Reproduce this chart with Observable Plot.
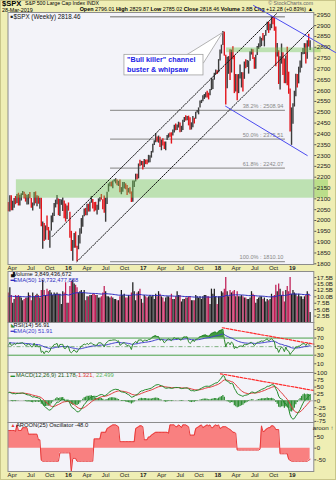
<!DOCTYPE html>
<html><head><meta charset="utf-8">
<script src="https://cdn.jsdelivr.net/npm/d3@7"></script>
<script src="https://cdn.jsdelivr.net/npm/@observablehq/plot@0.6"></script>
<style>
body{margin:0;background:#fff;}
#wrap{position:relative;width:336px;height:480px;background:#efeeb4;overflow:hidden;font-family:"Liberation Sans",Arial,sans-serif;box-shadow:inset 0 0 0 1px #c9c68a;}
.panel{position:absolute;left:0;width:336px;}
.panel svg{overflow:visible;display:block;}
.hd{position:absolute;white-space:nowrap;color:#000;line-height:1;}
</style></head><body>
<div id="wrap">
  <div class="hd" style="left:2px;top:0px;font-size:7.6px;font-weight:bold;">$SPX</div>
  <div class="hd" style="left:25px;top:1.4px;font-size:5.2px;">S&amp;P 500 Large Cap Index INDX</div>
  <div class="hd" style="right:23px;top:1.4px;font-size:5.2px;color:#666;">© StockCharts.com</div>
  <div class="hd" style="left:2px;top:7.6px;font-size:5.4px;">28-Mar-2019</div>
  <div class="hd" style="right:23px;top:7.4px;font-size:5.4px;"><b>Open</b> 2796.01 <b>High</b> 2829.87 <b>Low</b> 2785.02 <b>Close</b> 2818.46 <b>Volume</b> 3.8B <b>Chg</b> +12.28 (+0.83%) ▲</div>
</div>
<script>
// ---------------- data (weekly, Fridays from 2014-08-01) ----------------
const startDate = "2014-08-01";
const high = [
1984,1942,1964,1992,2005,2011,2008,2019,2008,1986,1977,1912,1965,2018,2034,2046,2071,2075,2079,2076,2077,2093,
2092,2064,2057,2064,2057,2072,2097,2110,2119,2117,2083,2114,2114,2089,2102,2111,2120,2126,2117,2123,2134,2131,2121,2115,2120,2129,2102,2081,2129,2132,2114,2112,2103,2103,1993,1986,1975,2021,1968,1951,2021,2034,2079,2094,2116,2099,2097,2095,2104,2090,2076,2067,2081,
2038,1950,1908,1940,1947,1881,1930,1962,2009,2022,2053,2056,2075,2075,2084,2111,2097,2083,2084,2071,2100,2106,2120,2096,2113,2103,2131,2169,2175,2178,2183,2188,2193,2187,2181,2187,2152,2175,2175,2169,2162,2148,2151,2132,2183,2182,2214,2214,2261,2278,2273,2273,
2282,2279,2279,2301,2299,2319,2352,2368,2401,2386,2390,2385,2371,2378,2362,2363,2392,2400,2404,2405,2418,2440,2446,2441,2454,2450,2435,2463,2476,2484,2480,2482,2475,2451,2480,2472,2500,2508,2520,2552,2555,2576,2582,2590,2597,2588,2605,2657,2652,2680,2695,2692,
2743,2787,2810,2873,2870,2763,2754,2757,2789,2787,2802,2761,2674,2673,2674,2718,2683,2682,2732,2742,2739,2736,2779,2791,2789,2752,2763,2804,2816,2848,2841,2864,2854,2877,2916,2916,2906,2941,2940,2939,2894,2817,2784,2756,2815,2775,2746,2760,2800,2685,2607,2520,
2539,2597,2675,2674,2708,2737,2776,2794,2817,2816,2830,2860,2830];
const low = [
1916,1905,1928,1955,1988,1990,1984,1978,1965,1926,1906,1821,1886,1951,2014,2030,2034,2062,2049,2002,1972,2066,
2046,1992,1988,2004,1989,1981,2041,2085,2094,2066,2040,2039,2045,2045,2057,2073,2079,2067,2067,2090,2115,2099,2085,2072,2072,2100,2056,2044,2067,2077,2063,2075,2052,1971,1867,1903,1909,1953,1908,1872,1951,1990,2019,2058,2073,2022,2019,2070,2042,2008,1993,2005,2043,
1918,1857,1812,1872,1872,1810,1865,1891,1937,1969,2017,2022,2022,2039,2039,2080,2053,2039,2044,2025,2047,2086,2094,2050,2033,1992,2074,2131,2156,2155,2147,2178,2169,2160,2157,2128,2119,2131,2145,2142,2115,2127,2121,2083,2084,2152,2178,2187,2192,2248,2253,2233,
2245,2258,2258,2265,2267,2288,2312,2346,2359,2361,2357,2337,2322,2344,2328,2322,2370,2380,2385,2353,2390,2404,2415,2416,2427,2405,2407,2416,2453,2459,2461,2437,2417,2418,2428,2446,2468,2496,2488,2520,2540,2548,2559,2566,2566,2557,2576,2600,2605,2648,2673,2674,
2682,2737,2769,2808,2759,2533,2608,2675,2647,2681,2742,2586,2593,2553,2586,2653,2612,2594,2652,2701,2707,2676,2735,2764,2743,2698,2699,2762,2790,2798,2803,2829,2802,2851,2876,2864,2876,2886,2904,2874,2710,2755,2628,2603,2722,2670,2632,2631,2622,2583,2409,2347,
2444,2524,2571,2612,2631,2681,2703,2765,2767,2723,2745,2801,2785];
const close = [
1925,1931,1955,1988,2003,2007,1985,2010,1982,1967,1906,1886,1964,2018,2032,2039,2064,2067,2075,2002,2070,2088,
2058,2044,2019,2051,1995,2055,2097,2110,2104,2071,2053,2108,2061,2067,2102,2081,2117,2108,2116,2123,2126,2107,2092,2094,2110,2102,2076,2077,2127,2079,2104,2078,2092,1971,1989,1921,1961,1958,1931,1951,2015,2033,2075,2079,2099,2023,2089,2090,2092,2012,2006,2061,2044,
1922,1880,1907,1940,1880,1865,1918,1948,2000,2022,2050,2035,2073,2048,2081,2092,2065,2057,2047,2052,2099,2099,2096,2071,2037,2103,2130,2162,2175,2174,2183,2184,2184,2169,2180,2128,2139,2165,2168,2153,2133,2141,2126,2085,2164,2182,2213,2192,2260,2258,2264,2239,
2277,2275,2271,2295,2297,2316,2351,2367,2383,2373,2378,2344,2363,2355,2329,2349,2384,2399,2391,2382,2416,2439,2432,2433,2438,2423,2425,2459,2473,2472,2477,2441,2426,2443,2477,2461,2500,2502,2519,2549,2553,2575,2581,2588,2582,2579,2602,2642,2652,2676,2683,2674,
2743,2786,2810,2873,2762,2620,2732,2747,2691,2786,2752,2588,2641,2604,2656,2670,2670,2663,2728,2713,2721,2735,2779,2780,2755,2718,2760,2801,2802,2819,2840,2833,2850,2875,2902,2872,2905,2930,2914,2886,2767,2768,2659,2723,2781,2736,2633,2760,2633,2600,2417,2486,
2532,2596,2671,2665,2707,2708,2776,2793,2804,2743,2822,2801,2818.46];
// weekly volume in billions, from 2015-03-13 (week index 32)
const volStart = 32;
const volumeB = [
11.5,13.5,10.5,7.5,9.0,10.5,10.0,10.5,10.0,9.5,8.5,9.0,9.5,9.5,11.5,10.5,8.5,11.5,10.0,10.5,11.0,10.5,9.5,12.5,16.5,12.5,10.5,13.0,12.0,12.5,11.5,10.5,11.5,11.0,11.5,11.0,11.0,7.0,12.0,11.5,15.5,7.5,7.5,
14.0,16.0,16.5,15.0,14.5,13.5,11.5,12.0,12.5,11.5,12.5,8.5,10.0,10.0,10.5,10.5,11.0,11.0,10.5,10.5,9.5,9.5,10.0,11.5,14.0,12.0,10.0,10.0,9.5,10.0,9.5,9.0,9.0,8.5,8.5,10.0,12.5,10.5,11.0,9.5,9.5,10.5,10.0,11.5,15.5,12.0,8.5,11.5,12.0,13.0,9.0,7.5,
10.5,10.0,9.5,10.0,10.5,10.0,10.5,9.0,11.0,10.0,12.0,11.0,10.0,9.5,8.0,9.5,10.0,10.0,9.5,11.0,9.0,9.0,10.0,12.0,10.5,10.5,8.0,9.0,9.0,9.5,9.5,10.0,10.0,8.5,8.5,8.5,10.5,10.0,9.5,10.0,9.0,10.0,10.5,10.5,10.0,10.0,7.0,13.0,11.0,13.0,10.0,7.0,
10.0,10.0,12.0,11.5,13.0,17.5,12.0,10.0,12.5,11.5,12.0,12.5,10.0,12.0,10.0,10.0,10.5,10.0,9.5,9.5,9.0,9.0,9.5,12.0,11.0,10.5,7.5,9.0,9.5,10.0,10.0,9.0,9.5,8.0,9.0,8.5,9.0,11.0,10.0,10.5,14.5,12.0,15.0,13.0,10.5,12.0,8.0,12.5,14.0,12.0,17.5,11.0,
12.5,11.5,11.0,10.0,11.0,10.0,10.0,9.0,10.0,10.5,12.0,11.0,3.85];

const priceTicks = [1800,1850,1900,1950,2000,2050,2100,2150,2200,2250,2300,2350,2400,2450,2500,2550,2600,2650,2700,2750,2800,2850,2900,2950];
const volTicks = [2.5,5,7.5,10,12.5,15,17.5];
const rsiTicks = [10,30,50,70,90];
const macdTicks = [-75,-50,-25,0,25,50,75,100];
const aroonTicks = [-50,0,50];
const monthTicks = ["2015-04-01","2015-07-01","2015-10-01","2016-04-01","2016-07-01","2016-10-01","2017-04-01","2017-07-01","2017-10-01","2018-04-01","2018-07-01","2018-10-01"];
const yearTicks = ["2016-01-01","2017-01-01","2018-01-01","2019-01-01"];

// annotations (data units: date, price / indicator value)
const fibLevels = [
  {label:"0.0% : 2940.91", value:2940.91, show:false},
  {label:"38.2% : 2508.94", value:2508.94, show:true},
  {label:"50.0% : 2375.51", value:2375.51, show:true},
  {label:"61.8% : 2242.07", value:2242.07, show:true},
  {label:"100.0% : 1810.10", value:1810.10, show:true}];
const fibFrom = "2016-07-25", fibTo = "2018-11-28";
const channelLines = [
  {line:"lower", date:"2016-02-11", price:1810.1}, {line:"lower", date:"2019-04-18", price:2899},
  {line:"upper", date:"2015-10-13", price:1926}, {line:"upper", date:"2018-10-16", price:2956}];
const wedgeLines = [
  {line:"top", date:"2018-06-25", price:2993}, {line:"top", date:"2019-07-31", price:2776},
  {line:"bottom", date:"2018-02-08", price:2528}, {line:"bottom", date:"2019-03-15", price:2300}];
const greenBands = [
  {from:"2018-02-13", to:"2019-05-22", lo:2775, hi:2797},
  {from:"2015-04-21", to:"2019-06-27", lo:2103, hi:2188}];
const calloutBox = [{from:"2016-10-01", to:"2017-10-23", lo:2670, hi:2765}];
const calloutPointer = [{date:"2017-08-01", price:2765},{date:"2018-01-24", price:2868},{date:"2017-10-23", price:2728}];
const calloutText = [{date:"2016-10-14", price:2741, text:'"Bull killer" channel'},{date:"2016-10-14", price:2695, text:"buster & whipsaw"}];
const rsiTrend = [{date:"2018-01-23", v:94},{date:"2019-04-16", v:56}];
const macdTrend = [{date:"2018-01-14", v:98.4},{date:"2019-04-16", v:37.5}];

// ---------------- derived ----------------
const DAY = 864e5, t0 = Date.parse(startDate);
const D = s => new Date(s);
const N = close.length;
const dates = close.map((_, i) => new Date(t0 + i * 7 * DAY));
function ema(arr, n, s) {
  const k = 2 / (n + 1), out = Array(arr.length).fill(null);
  out[s + n - 1] = d3.mean(arr.slice(s, s + n));
  for (let i = s + n; i < arr.length; i++) out[i] = arr[i] * k + out[i - 1] * (1 - k);
  return out;
}
// RSI(14) Wilder
const rsi = Array(N).fill(null);
{ let ag = 0, al = 0;
  for (let i = 1; i <= 14; i++) { const d = close[i] - close[i - 1]; if (d > 0) ag += d; else al -= d; }
  ag /= 14; al /= 14; rsi[14] = 100 - 100 / (1 + ag / al);
  for (let i = 15; i < N; i++) { const d = close[i] - close[i - 1];
    ag = (ag * 13 + Math.max(d, 0)) / 14; al = (al * 13 + Math.max(-d, 0)) / 14;
    rsi[i] = 100 - 100 / (1 + ag / al); } }
const rsiE = ema(rsi, 20, 14);
const e12 = ema(close, 12, 0), e26 = ema(close, 26, 0);
const macd = close.map((_, i) => i >= 25 ? e12[i] - e26[i] : null);
const sig = ema(macd, 9, 25);
const aroon = close.map((_, i) => {
  if (i < 25) return null;
  let hi = i - 25, lo = i - 25;
  for (let j = i - 25; j <= i; j++) { if (high[j] >= high[hi]) hi = j; if (low[j] <= low[lo]) lo = j; }
  return 100 * (25 - (i - hi)) / 25 - 100 * (25 - (i - lo)) / 25;
});
const volE = (() => { const k = 2 / 51; let p = d3.mean(volumeB.slice(0, 50)) * 0.9;
  return volumeB.map(v => (p = v * k + p * (1 - k))); })();

const rows = dates.map((date, i) => ({
  date, high: high[i], low: low[i], close: close[i], up: i > 0 && close[i] >= close[i - 1],
  rsi: rsi[i], rsiE: rsiE[i], macd: macd[i], sig: sig[i],
  hist: (macd[i] != null && sig[i] != null) ? macd[i] - sig[i] : null,
  aroon: aroon[i],
  vol: i >= volStart ? volumeB[i - volStart] : null,
  volE: i >= volStart ? volE[i - volStart] : null
})).filter((d, i) => i >= volStart);

// ---------------- plotting ----------------
const X = {type: "utc", domain: [D("2015-03-11"), D("2019-04-16")], range: [7.5, 313.3]};
const FONT = '"Liberation Sans", Arial, sans-serif';
const baseStyle = {background: "transparent", overflow: "visible", fontFamily: FONT, fontSize: "6.2px", color: "#222"};
const wrap = document.getElementById("wrap");
function mount(svg, top) { const d = document.createElement("div"); d.className = "panel"; d.style.top = top + "px"; d.appendChild(svg); wrap.appendChild(d); }
const bg = Plot.frame({fill: "#f3f3f9"});
const border = Plot.frame({stroke: "#8c8c8c", strokeWidth: 1});
const yAxis = (ticks, fmt) => Plot.axisY({anchor: "right", ticks, tickFormat: fmt, tickSize: 2, tickPadding: 1, fontSize: 6.2, stroke: "#555"});
const xAxes = () => [
  Plot.axisX({ticks: monthTicks.map(D), tickFormat: d3.utcFormat("%b"), tickSize: 0, tickPadding: 1.5, fontSize: 6}),
  Plot.axisX({ticks: yearTicks.map(D), tickFormat: d3.utcFormat("%y"), tickSize: 0, tickPadding: 1.5, fontSize: 6, fontWeight: "bold"})];
const plain = d => String(d);
const upC = "#3c3c3c", dnC = "#e3151b";

// main price panel: frame abs 12..264
const main = Plot.plot({
  width: 336, height: 260, marginTop: 0, marginBottom: 8, marginLeft: 7.5, marginRight: 22.7,
  style: baseStyle, x: X, y: {domain: [1796.8, 2960.6]},
  marks: [
    bg,
    Plot.ruleY(fibLevels, {y: "value", x1: () => D(fibFrom), x2: () => D(fibTo), stroke: "#9a9a9a", strokeWidth: 1.3}),
    Plot.text(fibLevels.filter(d => d.show), {y: "value", x: () => D(fibTo), text: "label", textAnchor: "end", dx: -2, dy: -4, fontSize: 5.6, fill: "#888"}),
    Plot.ruleX(rows, {x: "date", y1: "low", y2: "high", stroke: d => d.up ? upC : dnC, strokeWidth: 1.4}),
    Plot.rect(greenBands, {x1: d => D(d.from), x2: d => D(d.to), y1: "lo", y2: "hi", fill: "#72c852", fillOpacity: 0.42}),
    Plot.line(channelLines, {x: d => D(d.date), y: "price", z: "line", stroke: "#111", strokeWidth: 1, strokeDasharray: "1.4,1.4"}),
    Plot.line(wedgeLines, {x: d => D(d.date), y: "price", z: "line", stroke: "#4b4bf0", strokeWidth: 1}),
    Plot.line(calloutPointer, {x: d => D(d.date), y: "price", fill: "white", stroke: "#a0a0a0", strokeWidth: 0.8}),
    Plot.rect(calloutBox, {x1: d => D(d.from), x2: d => D(d.to), y1: "lo", y2: "hi", fill: "white", stroke: "#a0a0a0", strokeWidth: 0.8}),
    Plot.text(calloutText, {x: d => D(d.date), y: "price", text: "text", textAnchor: "start", fill: "#1a1ae6", fontWeight: "bold", fontSize: 7.2}),
    Plot.text(["■"], {frameAnchor: "top-left", dx: 2.5, dy: 2.2, lineAnchor: "top", textAnchor: "start", fontSize: 4.5, fill: "#222"}),
    Plot.text(["$SPX (Weekly) 2818.46"], {frameAnchor: "top-left", dx: 5.5, dy: 1.8, lineAnchor: "top", textAnchor: "start", fontSize: 6.3, fill: "#111"}),
    border,
    yAxis(priceTicks, plain),
    ...xAxes()
  ]
});
mount(main, 12);

// volume panel: abs 271..322
const vol = Plot.plot({
  width: 336, height: 51, marginTop: 0, marginBottom: 0, marginLeft: 7.5, marginRight: 22.7,
  style: baseStyle, x: {...X, axis: null}, y: {domain: [0, 19.87]},
  marks: [
    bg,
    Plot.ruleX(rows, {x: "date", y1: 0, y2: "vol", stroke: d => d.up ? "#1e1e1e" : "#bf1d55", strokeWidth: 1.25}),
    Plot.lineY(rows, {x: "date", y: "volE", stroke: "#2d2dbf", strokeWidth: 1}),
    Plot.text(["▟"], {frameAnchor: "top-left", dx: 2.5, dy: 0.8, lineAnchor: "top", textAnchor: "start", fontSize: 5, fill: "#111"}),
    Plot.text(["Volume 3,849,436,672"], {frameAnchor: "top-left", dx: 5.5, dy: 0.8, lineAnchor: "top", textAnchor: "start", fontSize: 5.8, fill: "#111"}),
    Plot.text(["▬"], {frameAnchor: "top-left", dx: 2.5, dy: 6.3, lineAnchor: "top", textAnchor: "start", fontSize: 4.5, fill: "#2d2dbf"}),
    Plot.text(["EMA(50) 10,732,477,888"], {frameAnchor: "top-left", dx: 5.5, dy: 6.3, lineAnchor: "top", textAnchor: "start", fontSize: 5.8, fill: "#2d2dbf"}),
    border,
    yAxis(volTicks, d => d.toFixed(1) + "B")
  ]
});
mount(vol, 271);

// RSI panel: abs 322..372
const rsiP = Plot.plot({
  width: 336, height: 50, marginTop: 0, marginBottom: 0, marginLeft: 7.5, marginRight: 22.7,
  style: baseStyle, x: {...X, axis: null}, y: {domain: [-10.3, 106.3]},
  marks: [
    bg,
    Plot.areaY(rows, {x: "date", y1: 70, y2: d => Math.max(70, d.rsi), fill: "#3f9a3f"}),
    Plot.areaY(rows, {x: "date", y1: d => Math.min(30, d.rsi), y2: 30, fill: "#3f9a3f"}),
    Plot.ruleY([70, 30], {stroke: "#4aa04a", strokeWidth: 1}),
    Plot.ruleY([50], {stroke: "#5f9f5f", strokeWidth: 0.8, strokeDasharray: "4,2,1,2"}),
    Plot.lineY(rows, {x: "date", y: "rsiE", stroke: "#4040cc", strokeWidth: 1}),
    Plot.lineY(rows, {x: "date", y: "rsi", stroke: "#2f8a2f", strokeWidth: 1}),
    Plot.line(rsiTrend, {x: d => D(d.date), y: "v", stroke: "#ff2a2a", strokeWidth: 1.2, strokeDasharray: "2.5,1.5"}),
    Plot.text(["◣"], {frameAnchor: "top-left", dx: 2.5, dy: 0.6, lineAnchor: "top", textAnchor: "start", fontSize: 5, fill: "#2f8a2f"}),
    Plot.text(["RSI(14) 56.91"], {frameAnchor: "top-left", dx: 5.5, dy: 0.6, lineAnchor: "top", textAnchor: "start", fontSize: 5.8, fill: "#111"}),
    Plot.text(["▬"], {frameAnchor: "top-left", dx: 2.5, dy: 6, lineAnchor: "top", textAnchor: "start", fontSize: 4.5, fill: "#4040cc"}),
    Plot.text(["EMA(20) 51.91"], {frameAnchor: "top-left", dx: 5.5, dy: 6, lineAnchor: "top", textAnchor: "start", fontSize: 5.8, fill: "#4040cc"}),
    border,
    yAxis(rsiTicks, plain)
  ]
});
mount(rsiP, 322);

// MACD panel: abs 372..422
const macdP = Plot.plot({
  width: 336, height: 50, marginTop: 0, marginBottom: 0, marginLeft: 7.5, marginRight: 22.7,
  style: baseStyle, x: {...X, axis: null}, y: {domain: [-79.1, 103.2]},
  marks: [
    bg,
    Plot.ruleY([0], {stroke: "#b8b8b8", strokeWidth: 1}),
    Plot.ruleX(rows, {x: "date", y1: 0, y2: "hist", stroke: "#2f8f35", strokeWidth: 1.25}),
    Plot.lineY(rows, {x: "date", y: "sig", stroke: "#e03c3c", strokeWidth: 1}),
    Plot.lineY(rows, {x: "date", y: "macd", stroke: "#238a2b", strokeWidth: 1}),
    Plot.line(macdTrend, {x: d => D(d.date), y: "v", stroke: "#ff2a2a", strokeWidth: 1.2, strokeDasharray: "2.5,1.5"}),
    Plot.text(["▬"], {frameAnchor: "top-left", dx: 2.5, dy: 0.8, lineAnchor: "top", textAnchor: "start", fontSize: 4.5, fill: "#238a2b"}),
    Plot.text(["MACD(12,26,9) 21.178,"], {frameAnchor: "top-left", dx: 8, dy: 0.8, lineAnchor: "top", textAnchor: "start", fontSize: 5.8, fill: "#1b5e20"}),
    Plot.text(["-1.321,"], {frameAnchor: "top-left", dx: 68, dy: 0.8, lineAnchor: "top", textAnchor: "start", fontSize: 5.8, fill: "#e03030"}),
    Plot.text(["22.499"], {frameAnchor: "top-left", dx: 88, dy: 0.8, lineAnchor: "top", textAnchor: "start", fontSize: 5.8, fill: "#5cb85c"}),
    border,
    yAxis(macdTicks, plain)
  ]
});
mount(macdP, 372);

// Aroon panel: abs 422..471, date labels below
const arP = Plot.plot({
  width: 336, height: 58, marginTop: 0, marginBottom: 9, marginLeft: 7.5, marginRight: 22.7,
  style: baseStyle, x: X, y: {domain: [-100, 110.3]},
  marks: [
    bg,
    Plot.areaY(rows, {x: "date", y1: 0, y2: "aroon", fill: "#f98080"}),
    Plot.lineY(rows, {x: "date", y: "aroon", stroke: "#e83a3a", strokeWidth: 1}),
    Plot.text(["▲"], {frameAnchor: "top-left", dx: 2.5, dy: 0.8, lineAnchor: "top", textAnchor: "start", fontSize: 5, fill: "#e83a3a"}),
    Plot.text(["AROON(25) Oscillator -48.0"], {frameAnchor: "top-left", dx: 8, dy: 0.8, lineAnchor: "top", textAnchor: "start", fontSize: 5.8, fill: "#111"}),
    border,
    yAxis(aroonTicks, plain),
    ...xAxes()
  ]
});
mount(arP, 422);
</script>
</body></html>
